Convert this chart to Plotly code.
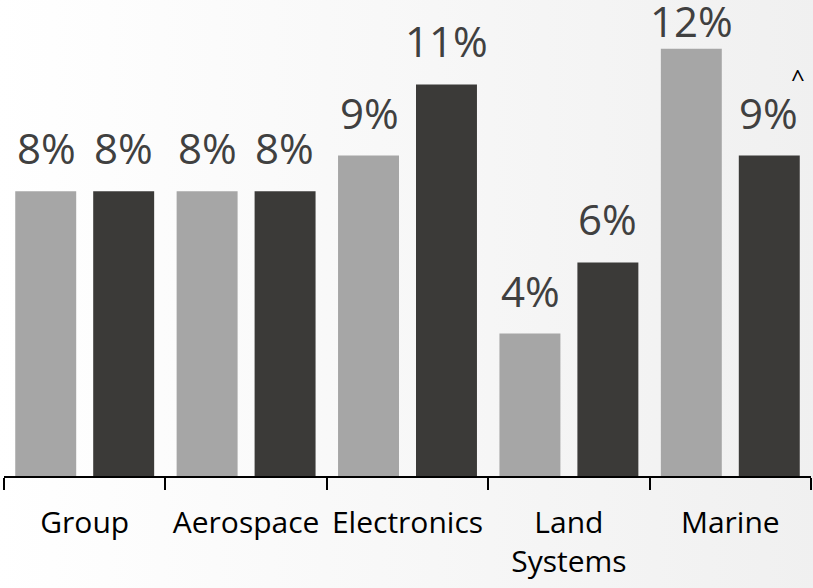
import base64
import plotly.graph_objects as go

# Segment margin figures (%) for the two periods
categories = ["Group", "Aerospace", "Electronics", "Land<br>Systems", "Marine"]
prior_values = [8, 8, 9, 4, 12]
current_values = [8, 8, 11, 6, 9]
value_labels_prior = ["8%", "8%", "9%", "4%", "12%"]
value_labels_current = ["8%", "8%", "11%", "6%", "9%"]

LIGHT = "#a6a6a6"
DARK = "#3b3a38"
LABEL_COLOR = "#404040"
FONT = "Open Sans"
Y_MAX = 13.37

fig = go.Figure()
fig.add_bar(x=categories, y=prior_values, marker_color=LIGHT, marker_line_width=0)
fig.add_bar(x=categories, y=current_values, marker_color=DARK, marker_line_width=0)


def label_shift(v):
    # tallest bar's label is squeezed against the top edge
    return -2 if v > 11.5 else 13


annotations = []
for cat, v, t in zip(categories, prior_values, value_labels_prior):
    annotations.append(dict(x=cat, y=v, text=t, xshift=-38.5, yshift=label_shift(v),
                            yanchor="bottom", showarrow=False,
                            font=dict(family=FONT, size=42, color=LABEL_COLOR)))
for cat, v, t in zip(categories, current_values, value_labels_current):
    annotations.append(dict(x=cat, y=v, text=t, xshift=38.5, yshift=label_shift(v),
                            yanchor="bottom", showarrow=False,
                            font=dict(family=FONT, size=42, color=LABEL_COLOR)))
# footnote marker on the Marine current-period figure
annotations.append(dict(x=categories[4], y=current_values[4], text="^", xshift=68,
                        yshift=60, yanchor="bottom", showarrow=False,
                        font=dict(family=FONT, size=24, color="#000000")))

# soft horizontal background gradient
svg = ('<svg xmlns="http://www.w3.org/2000/svg" width="100" height="100" preserveAspectRatio="none">'
       '<defs><linearGradient id="g" x1="0" y1="0" x2="1" y2="0">'
       '<stop offset="0" stop-color="#ffffff"/><stop offset="1" stop-color="#f0f0f0"/>'
       '</linearGradient></defs><rect width="100" height="100" fill="url(#g)"/></svg>')
bg_src = "data:image/svg+xml;base64," + base64.b64encode(svg.encode()).decode()

fig.update_layout(
    width=813, height=588,
    margin=dict(l=4, r=2, t=0, b=112),
    barmode="group", bargap=0.034, bargroupgap=0.218,
    showlegend=False,
    paper_bgcolor="rgba(0,0,0,0)", plot_bgcolor="rgba(0,0,0,0)",
    annotations=annotations,
    images=[dict(source=bg_src, xref="paper", yref="paper", x=-0.01, y=1, sizex=1.02,
                 sizey=1.25, sizing="stretch", xanchor="left", yanchor="top",
                 layer="below")],
    font=dict(family=FONT),
)
fig.update_xaxes(showline=True, linecolor="#000000", linewidth=1.5,
                 ticks="outside", tickson="boundaries", ticklen=12, tickwidth=1.5,
                 tickcolor="#000000", ticklabelstandoff=19, tickangle=0,
                 automargin=False,
                 tickfont=dict(family=FONT, size=30, color="#000000"),
                 showgrid=False)
fig.update_yaxes(range=[0, Y_MAX], visible=False, showgrid=False, automargin=False)

fig.write_html("out.html")
